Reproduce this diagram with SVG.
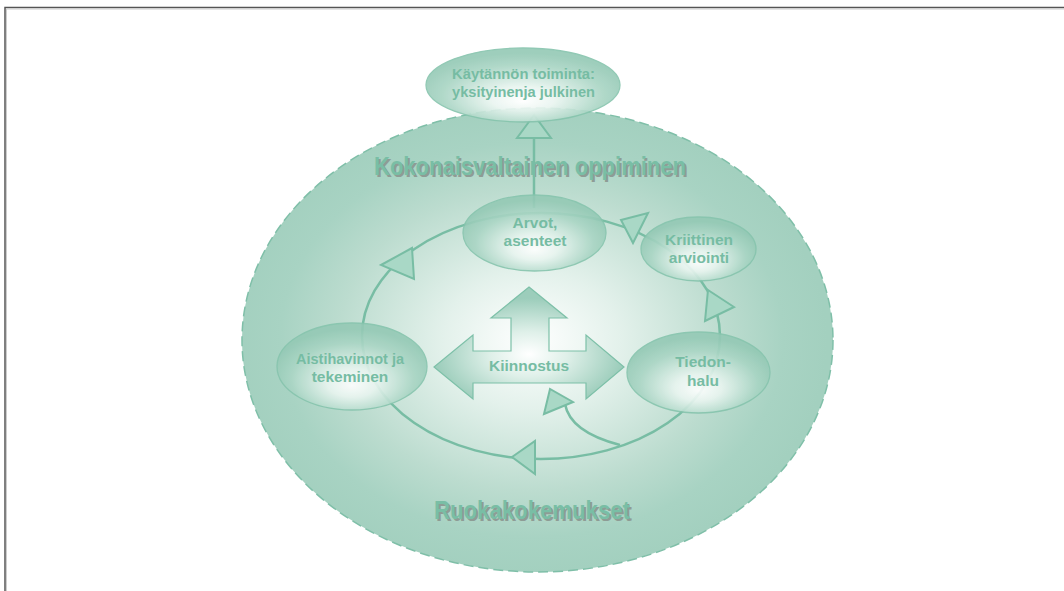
<svg xmlns="http://www.w3.org/2000/svg" width="1064" height="591" viewBox="0 0 1064 591">
<defs>
<radialGradient id="gBig" cx="0.49" cy="0.5" r="0.5">
<stop offset="0" stop-color="#ffffff"/>
<stop offset="0.3" stop-color="#e3f1eb"/>
<stop offset="0.65" stop-color="#bcdccf"/>
<stop offset="0.85" stop-color="#a8d3c3"/>
<stop offset="1" stop-color="#a3d0bf"/>
</radialGradient>
<radialGradient id="gNode" cx="0.5" cy="0.62" r="0.55" fx="0.5" fy="0.72">
<stop offset="0" stop-color="#ffffff"/>
<stop offset="0.3" stop-color="#e9f5f0"/>
<stop offset="0.75" stop-color="#a9d5c4"/>
<stop offset="1" stop-color="#94c9b5"/>
</radialGradient>
<radialGradient id="gArrow" cx="0.5" cy="0.6" r="0.5">
<stop offset="0" stop-color="#ffffff"/>
<stop offset="0.4" stop-color="#dff0e9"/>
<stop offset="1" stop-color="#9ccdbb"/>
</radialGradient>
<style>
.node ellipse{fill:url(#gNode);stroke:#86c4ad;stroke-width:1.3;opacity:0.9}
.nt{font-family:"Liberation Sans",Arial,sans-serif;font-weight:bold;font-size:15.5px;fill:#76bca3;text-anchor:middle}
.big{font-family:"Liberation Sans",Arial,sans-serif;font-weight:bold;font-size:25px;text-anchor:middle}
.sh{fill:#8e9c95}
.fg{fill:#79bea5}
.ln{fill:none;stroke:#78bda4;stroke-width:2.5}
.tri{fill:#a9d8c6;stroke:#78bda4;stroke-width:2;stroke-linejoin:miter}
</style>
</defs>
<rect width="1064" height="591" fill="#ffffff"/>
<path d="M5,591 V7.5 H1064" fill="none" stroke="#555" stroke-width="1.5"/>
<path d="M6.5,591 V9 H1064" fill="none" stroke="#ccc" stroke-width="1"/>

<g id="outer">
<ellipse cx="537.5" cy="340" rx="295.5" ry="232" fill="url(#gBig)" stroke="#7fbfa8" stroke-width="1.5" stroke-dasharray="10 5"/>
</g>

<g id="labels">
<text class="big sh" x="532" y="177" textLength="312" lengthAdjust="spacingAndGlyphs">Kokonaisvaltainen oppiminen</text>
<text class="big fg" x="530" y="175" textLength="312" lengthAdjust="spacingAndGlyphs">Kokonaisvaltainen oppiminen</text>
<text class="big sh" x="534" y="521" textLength="196" lengthAdjust="spacingAndGlyphs">Ruokakokemukset</text>
<text class="big fg" x="532" y="519" textLength="196" lengthAdjust="spacingAndGlyphs">Ruokakokemukset</text>
</g>

<g id="connectors">
<ellipse class="ln" cx="541" cy="336" rx="179" ry="123"/>
<path class="ln" d="M620,445 Q570,432 565,404"/>
<path class="ln" d="M534,208 V137"/>
<polygon class="tri" points="534,115 517,138 551,138"/>
<polygon class="tri" points="381,265 412,248 414,279"/>
<polygon class="tri" points="621,220 648,213 633,243"/>
<polygon class="tri" points="708,290 734,307 705,321"/>
<polygon class="tri" points="512,457 535,441 535,474"/>
<polygon class="tri" points="544,414 550,389 573,402"/>
</g>

<g id="kiinnostus">
<polygon points="529,287 567,318 549,318 549,351 586,351 586,335 624,367 586,399 586,383 473,383 473,399 434,367 473,335 473,351 511,351 511,318 491,318" fill="url(#gArrow)" stroke="#7dc0a8" stroke-width="1.2"/>
<text class="nt" x="529" y="371">Kiinnostus</text>
</g>

<g id="kaytanto" class="node">
<ellipse cx="523" cy="85" rx="97" ry="37"/>
<text class="nt" x="523.5" y="79" textLength="143" lengthAdjust="spacingAndGlyphs">Käytännön toiminta:</text>
<text class="nt" x="523.5" y="97" textLength="143" lengthAdjust="spacingAndGlyphs">yksityinenja julkinen</text>
</g>

<g id="arvot" class="node">
<ellipse cx="534.5" cy="233" rx="71.5" ry="38"/>
<text class="nt" x="535" y="228">Arvot,</text>
<text class="nt" x="535" y="246">asenteet</text>
</g>

<g id="kriittinen" class="node">
<ellipse cx="698.5" cy="249" rx="57.5" ry="32"/>
<text class="nt" x="699" y="245">Kriittinen</text>
<text class="nt" x="699" y="263">arviointi</text>
</g>

<g id="aisti" class="node">
<ellipse cx="352" cy="366.5" rx="75" ry="43.5"/>
<text class="nt" x="350" y="364" textLength="108" lengthAdjust="spacingAndGlyphs">Aistihavinnot ja</text>
<text class="nt" x="350" y="382">tekeminen</text>
</g>

<g id="tiedonhalu" class="node">
<ellipse cx="698.5" cy="372.5" rx="71.5" ry="40.5"/>
<text class="nt" x="703" y="367">Tiedon-</text>
<text class="nt" x="703" y="386">halu</text>
</g>
</svg>
